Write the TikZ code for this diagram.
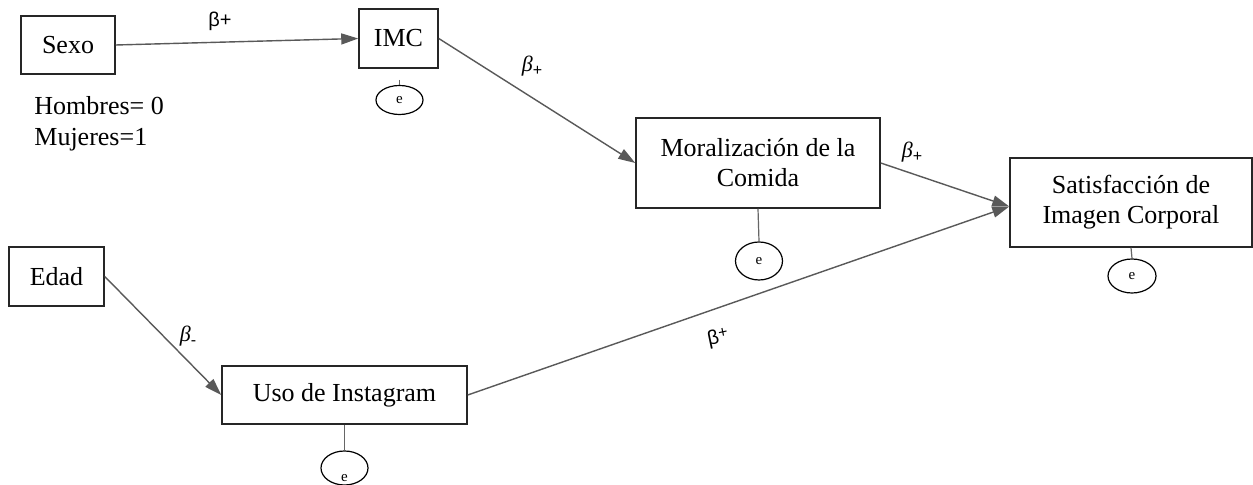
\documentclass[tikz,border=0pt]{standalone}
\usepackage{fontspec}
\setmainfont{Liberation Serif}
\newfontfamily\lsans{Liberation Sans}
\usetikzlibrary{shapes.geometric,arrows.meta}
\begin{document}
\begin{tikzpicture}[x=0.5pt,y=-0.5pt,
  box/.style={draw=black!85,line width=0.75pt,inner sep=2pt,align=center,font=\fontsize{13}{15}\selectfont},
  err/.style={draw=black,line width=0.6pt,ellipse,inner sep=0pt,font=\fontsize{7.5}{8}\selectfont},
  etext/.style={inner sep=0pt,font=\fontsize{7.5}{8}\selectfont},
  conn/.style={draw=black!65,line width=0.7pt,-{Triangle[length=8.5pt,width=5.5pt]}},
  tick/.style={draw=black!60,line width=0.6pt},
  blab/.style={font=\lsans\fontsize{10}{12}\selectfont,inner sep=0pt},
  bilab/.style={font=\fontsize{11}{12}\selectfont\itshape,inner sep=0pt}]
\useasboundingbox (0,0) rectangle (1253,485);
\fill[white] (0,0) rectangle (1253,485);

% boxes
\node[box,minimum width=47pt,minimum height=29pt] (sexo) at (68,45) {Sexo};
\node[box,minimum width=39.5pt,minimum height=29.5pt] (imc) at (398.5,38.5) {IMC};
\node[box,minimum width=122pt,minimum height=45pt] (mor) at (758,163) {Moralización de la\\Comida};
\node[box,minimum width=121pt,minimum height=44.5pt] (sat) at (1131,202.5) {Satisfacción de\\Imagen Corporal};
\node[box,minimum width=47.5pt,minimum height=29.5pt] (edad) at (56.5,276.5) {Edad};
\node[box,minimum width=122.5pt,minimum height=29pt] (uso) at (344.5,395) {Uso de Instagram};

% coding note
\node[anchor=north west,align=left,inner sep=0pt,font=\fontsize{13}{15.5}\selectfont] (note) at (34,96) {Hombres= 0\\Mujeres=1};

% error terms
\node[err,minimum width=23.5pt,minimum height=14.5pt] (eimc) at (399.5,100) {e};
\node[err,minimum width=23.5pt,minimum height=19pt] (emor) at (759,261) {e};
\node[err,minimum width=24pt,minimum height=17pt] (esat) at (1132,276) {e};
\node[err,minimum width=23.5pt,minimum height=17pt] (euso) at (344.5,468) {};
\node[etext] (eusotext) at (344.5,478) {e};

\coordinate (imctick) at (399.5,80);
\draw[tick] (imctick) -- (eimc.north);
\draw[tick] (mor.south) -- (emor.north);
\draw[tick] (sat.south) -- (esat.north);
\draw[tick] (uso.south) -- (euso.north);

% paths
\coordinate (satin) at ([yshift=-2pt]sat.west);
\draw[conn] (sexo.east) -- (imc.west);
\draw[conn] (imc.east) -- (mor.west);
\draw[conn] (mor.east) -- (satin);
\draw[conn] (edad.east) -- (uso.west);
\draw[conn] (uso.east) -- (satin);

% labels
\node[blab] (l1) at (220,21) {β+};
\node[bilab] (l2) at (532,66) {β\raisebox{-2pt}{\lsans\upshape\fontsize{8}{8}\selectfont +}};
\node[bilab] (l3) at (912,152) {β\raisebox{-2pt}{\lsans\upshape\fontsize{8}{8}\selectfont +}};
\node[bilab] (l4) at (188,336) {β\raisebox{-2pt}{\lsans\upshape\fontsize{8}{8}\selectfont -}};
\node[blab,rotate=12] (l5) at (718,338) {β\raisebox{2pt}{\fontsize{8}{8}\selectfont +}};
\end{tikzpicture}
\end{document}
